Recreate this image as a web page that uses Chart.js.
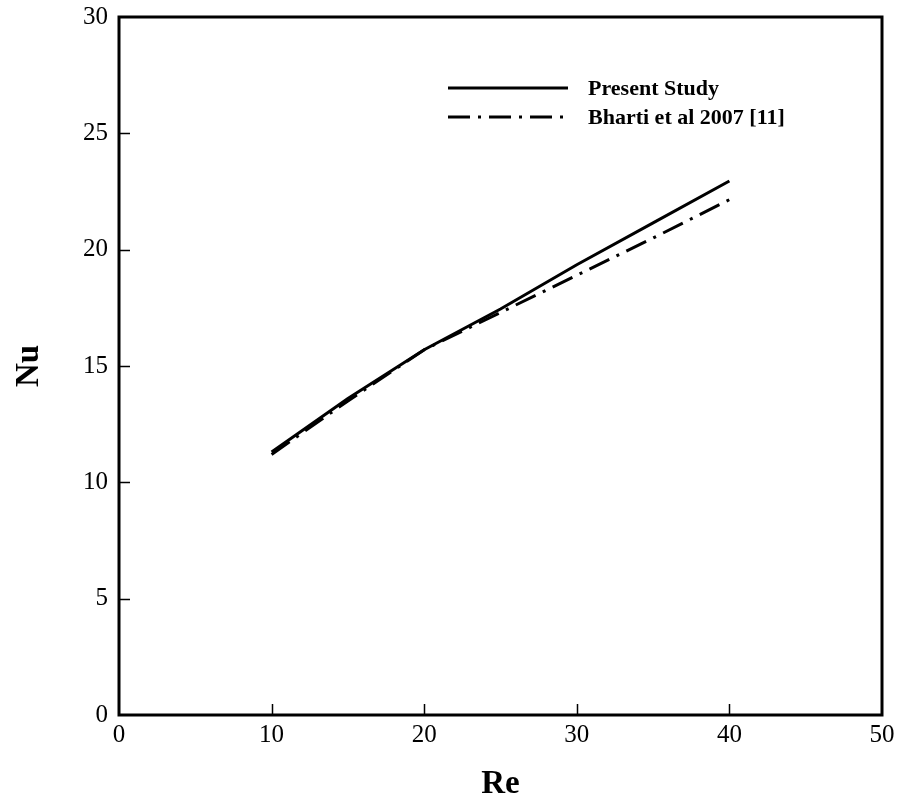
<!DOCTYPE html>
<html>
<head>
<meta charset="utf-8">
<script src="https://cdn.jsdelivr.net/npm/chart.js@4/dist/chart.umd.min.js"></script>
<style>
  html, body { margin: 0; padding: 0; background: #ffffff; }
  #wrap { width: 900px; height: 798px; }
</style>
</head>
<body>
<div id="wrap"><canvas id="c" width="900" height="798"></canvas></div>
<script>
// ---- data ----
const reValues   = [10, 15, 20, 25, 30, 35, 40];
const nuPresent  = [11.3, 13.6, 15.7, 17.45, 19.35, 21.15, 22.95];
const nuBharti   = [11.2, 13.5, 15.7, 17.3, 18.9, 20.5, 22.15];
const seriesLabels = ['Present Study', 'Bharti et al 2007 [11]'];
const xTitle = 'Re';
const yTitle = 'Nu';
const xTicks = [0, 10, 20, 30, 40, 50];
const yTicks = [0, 5, 10, 15, 20, 25, 30];

const SERIF = "'Liberation Serif', 'Times New Roman', 'DejaVu Serif', serif";

function toPoints(xs, ys) { return xs.map((x, i) => ({ x: x, y: ys[i] })); }

// inward ticks + frame
const framePlugin = {
  id: 'frame',
  afterDatasetsDraw(chart) {
    const { ctx, chartArea: a, scales } = chart;
    ctx.save();
    ctx.strokeStyle = '#000';
    ctx.lineWidth = 1.5;
    ctx.beginPath();
    scales.x.ticks.forEach(t => {
      if (t.value <= scales.x.min || t.value >= scales.x.max) return;
      const px = Math.round(scales.x.getPixelForValue(t.value)) + 0.5;
      ctx.moveTo(px, a.bottom);
      ctx.lineTo(px, a.bottom - 11);
    });
    scales.y.ticks.forEach(t => {
      if (t.value <= scales.y.min || t.value >= scales.y.max) return;
      const py = Math.round(scales.y.getPixelForValue(t.value)) + 0.5;
      ctx.moveTo(a.left, py);
      ctx.lineTo(a.left + 11, py);
    });
    ctx.stroke();
    ctx.lineWidth = 3;
    ctx.strokeRect(a.left, a.top, a.right - a.left, a.bottom - a.top);
    ctx.restore();
  }
};

// legend drawn inside the plot
const legendPlugin = {
  id: 'insideLegend',
  afterDatasetsDraw(chart) {
    const { ctx } = chart;
    const rows = [88, 117];
    ctx.save();
    chart.data.datasets.forEach((ds, i) => {
      const y = rows[i];
      ctx.strokeStyle = ds.borderColor;
      ctx.lineWidth = ds.borderWidth;
      ctx.setLineDash(ds.borderDash || []);
      ctx.beginPath();
      ctx.moveTo(448, y);
      ctx.lineTo(568, y);
      ctx.stroke();
      ctx.setLineDash([]);
      ctx.fillStyle = '#000';
      ctx.font = 'bold 22px ' + SERIF;
      ctx.textAlign = 'left';
      ctx.textBaseline = 'middle';
      ctx.fillText(ds.label, 588, y + 1);
    });
    ctx.restore();
  }
};

new Chart(document.getElementById('c'), {
  type: 'scatter',
  data: {
    datasets: [
      {
        label: seriesLabels[0],
        data: toPoints(reValues, nuPresent),
        showLine: true,
        borderColor: '#000',
        backgroundColor: '#000',
        borderWidth: 3,
        pointRadius: 0,
        tension: 0
      },
      {
        label: seriesLabels[1],
        data: toPoints(reValues, nuBharti),
        showLine: true,
        borderColor: '#000',
        backgroundColor: '#000',
        borderWidth: 3,
        borderDash: [22, 8, 3, 8],
        pointRadius: 0,
        tension: 0
      }
    ]
  },
  options: {
    responsive: false,
    animation: false,
    devicePixelRatio: 1,
    layout: { padding: { left: 0, top: 17, right: 18, bottom: 0 } },
    plugins: {
      legend: { display: false },
      tooltip: { enabled: false }
    },
    scales: {
      x: {
        type: 'linear',
        min: 0, max: 50,
        afterFit(s) { s.height = 83; s.paddingLeft = 0; s.paddingRight = 0; },
        afterBuildTicks(s) { s.ticks = xTicks.map(v => ({ value: v })); },
        grid: { display: false, drawTicks: false },
        border: { display: false },
        ticks: {
          color: '#000',
          padding: 5,
          font: { family: SERIF, size: 25 },
          maxRotation: 0
        },
        title: {
          display: true,
          text: xTitle,
          color: '#000',
          font: { family: SERIF, size: 33, weight: 'bold', lineHeight: 0.82 },
          padding: { top: 0, bottom: 0 }
        }
      },
      y: {
        type: 'linear',
        min: 0, max: 30,
        afterFit(s) { s.width = 119; s.paddingTop = 0; s.paddingBottom = 0; },
        afterBuildTicks(s) { s.ticks = yTicks.map(v => ({ value: v })); },
        grid: { display: false, drawTicks: false },
        border: { display: false },
        ticks: {
          color: '#000',
          padding: 11,
          font: { family: SERIF, size: 25 }
        },
        title: {
          display: true,
          text: yTitle,
          color: '#000',
          font: { family: SERIF, size: 33, weight: 'bold', lineHeight: 1 },
          padding: { top: 13, bottom: 0 }
        }
      }
    }
  },
  plugins: [framePlugin, legendPlugin]
});
</script>
</body>
</html>
